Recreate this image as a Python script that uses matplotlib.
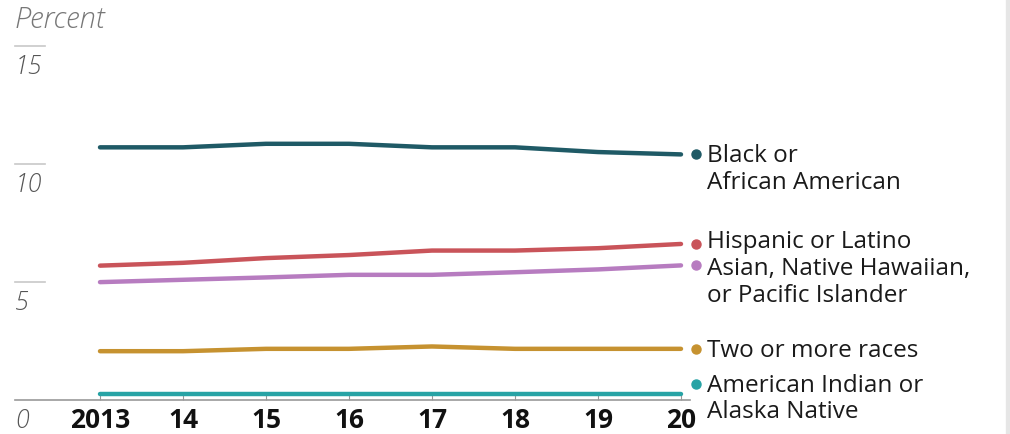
import numpy as np
import matplotlib.pyplot as plt
from matplotlib.patches import Rectangle
import matplotlib.transforms as mtransforms

plt.rcParams['font.family'] = ['Open Sans', 'DejaVu Sans']

# data (percent)
years = [2013, 2014, 2015, 2016, 2017, 2018, 2019, 2020]
year_labels = ['2013', '14', '15', '16', '17', '18', '19', '20']

black = [10.7, 10.7, 10.85, 10.85, 10.7, 10.7, 10.5, 10.4]
hispanic = [5.68, 5.8, 6.0, 6.13, 6.32, 6.32, 6.42, 6.6]
asian = [4.98, 5.08, 5.18, 5.29, 5.29, 5.4, 5.52, 5.69]
two_more = [2.05, 2.05, 2.15, 2.15, 2.25, 2.15, 2.15, 2.15]
amer_indian = [0.25, 0.25, 0.25, 0.25, 0.25, 0.25, 0.25, 0.25]

series = [black, hispanic, asian, two_more, amer_indian]
names = ['Black or\nAfrican American', 'Hispanic or Latino',
         'Asian, Native Hawaiian,\nor Pacific Islander', 'Two or more races',
         'American Indian or\nAlaska Native']
colors = ['#1f5a66', '#c9545a', '#b77cc0', '#c69230', '#27a3a5']
# vertical nudge of the end dots (data units) and of the label text (points)
dot_nudge = [0, 0, 0, 0, 0.42]
text_nudge = [0, 2.5, -1.5, 0, 0]

yticks = [5, 10, 15]

fig = plt.figure(figsize=(10.1, 4.35), dpi=100)
W, H = 1010, 435
ax = fig.add_axes([15 / W, 34.5 / H, 675 / W, 353.5 / H])
ax.set_xlim(2013 - 85 / 83, 2013 + 590 / 83)
ax.set_ylim(0, 15)

for vals, c in zip(series, colors):
    ax.plot(years, vals, color=c, lw=3.2, solid_capstyle='round', zorder=3)

# end dots and labels
for vals, name, c, dy, ty in zip(series, names, colors, dot_nudge, text_nudge):
    yv = vals[-1] + dy
    ax.plot([2020 + 15 / 83], [yv], 'o', color=c, ms=6.5, clip_on=False, zorder=4)
    ax.annotate(name, xy=(2020 + 26 / 83, yv), xytext=(0, 8 + ty),
                textcoords='offset points', va='top', ha='left',
                fontsize=17.5, color='#1a1a1a', linespacing=1.15,
                annotation_clip=False)

# y grid stubs + italic labels below them
trans = mtransforms.blended_transform_factory(ax.transAxes, ax.transData)
for t in yticks:
    ax.plot([0, 30 / 675], [t, t], color='#c8c8c8', lw=1.2, transform=trans, clip_on=False)
for t in yticks + [0]:
    ax.annotate(str(t), xy=(0, t), xycoords=trans, xytext=(0, -6),
                textcoords='offset points', va='top', ha='left',
                fontsize=18, style='italic', color='#555555', fontweight=300)

ax.text(0, 1.075, 'Percent', transform=ax.transAxes, fontsize=21, style='italic',
        color='#777777', fontweight=300, va='center', ha='left')

for s in ['top', 'right', 'left']:
    ax.spines[s].set_visible(False)
ax.spines['bottom'].set_color('#999999')
ax.spines['bottom'].set_linewidth(1.2)
ax.set_yticks([])
ax.set_xticks(years)
ax.set_xticklabels(year_labels, fontsize=19, fontweight='bold', color='#111111')
ax.tick_params(axis='x', direction='in', length=4, color='#999999', pad=5)

fig.patches.append(Rectangle((1006 / W, 0), 4 / W, 1, transform=fig.transFigure,
                             color='#e6e6e6', zorder=0))

fig.savefig('out.png', dpi=100)
